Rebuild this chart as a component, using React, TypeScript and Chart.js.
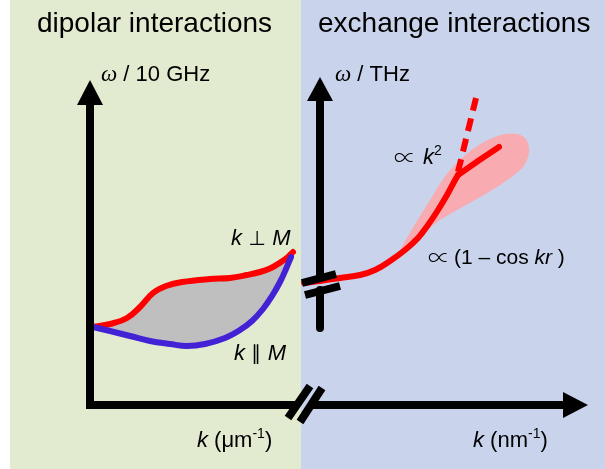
import React, { useEffect, useRef } from 'react';
import { Chart, registerables } from 'chart.js';

Chart.register(...registerables);

type Pt = [number, number];

// ---- diagram coordinate space (x to the right, y downwards) ----
const X_RANGE: Pt = [0, 605];
const Y_RANGE: Pt = [0, 469];

// panel backgrounds: x boundaries and colours
const panelEdges = [10, 301, 605];
const panelColors = ['#e2ebd0', '#c9d3ec'];

// dipolar regime: k ⊥ M (upper, red) and k ∥ M (lower, blue)
const perpCurve: Pt[] = [
  [93, 327], [110, 324], [127, 318], [140, 307], [153, 293], [166, 286], [182, 282],
  [210, 279], [230, 278], [247, 275], [260, 272], [271, 268], [281, 262], [288, 257], [293, 252],
];
const paraCurve: Pt[] = [
  [93, 327], [110, 331], [130, 336], [150, 341], [170, 344], [187, 346], [205, 344],
  [225, 338], [240, 330], [252, 321], [263, 309], [272, 296], [280, 282], [286, 269], [291, 257],
];

// exchange regime: (1 - cos kr) branch, k^2 branch and dashed continuation
const exchangeCurve: Pt[] = [
  [304, 283], [320, 281], [340, 278], [360, 275], [375, 270], [390, 261], [405, 250],
  [418, 238], [428, 225], [438, 210], [447, 195], [454, 182], [458, 175],
];
const k2Branch: Pt[] = [[458, 175], [478, 161], [499, 147]];
const k2Dashed: Pt[] = [[476, 98], [457, 176]];

// pink uncertainty blob around the k^2 branch
const pinkBlob: Pt[] = [
  [398, 255], [404, 243], [417, 221], [432, 197], [446, 175], [462, 158], [476, 147],
  [490, 139], [505, 134], [517, 134], [525, 138], [529, 147], [528, 157], [523, 167],
  [514, 175], [500, 185], [484, 195], [466, 205], [450, 214], [436, 223], [424, 233],
  [411, 245], [398, 255],
];

// axes
const leftAxis: Pt[] = [[90, 104], [90, 405], [298, 405]];
const bottomAxisRight: Pt[] = [[310, 405], [566, 405]];
const rightAxisTop: Pt[] = [[320, 100], [320, 279]];
const rightAxisBottom: Pt[] = [[320, 290], [320, 328]];
const arrowLeft: Pt[] = [[77, 105], [90, 80], [103, 105], [77, 105]];
const arrowRight: Pt[] = [[307, 101], [320, 77], [333, 101], [307, 101]];
const arrowBottom: Pt[] = [[563, 392], [588, 405], [563, 418], [563, 392]];
const breakBottomA: Pt[] = [[288, 418], [310, 386]];
const breakBottomB: Pt[] = [[300, 422], [322, 388]];
const breakRightA: Pt[] = [[302, 283], [336, 274]];
const breakRightB: Pt[] = [[305, 295], [340, 286]];

const SANS = '"Liberation Sans", Arial, "DejaVu Sans", sans-serif';
const SYM = '"DejaVu Sans", "Liberation Sans", sans-serif';
const PROP = '"Noto Sans CJK JP", "DejaVu Sans", sans-serif';
const SERIF = '"Liberation Serif", "Times New Roman", serif';

type Run = { t: string; f: string; dy?: number; gap?: number };
type Label = { x: number; y: number; runs: Run[] };

const labels: Label[] = [
  { x: 37, y: 32, runs: [{ t: 'dipolar interactions', f: `28px ${SANS}` }] },
  { x: 318, y: 32, runs: [{ t: 'exchange interactions', f: `28px ${SANS}` }] },
  { x: 101, y: 81, runs: [{ t: 'ω', f: `italic 23px ${SERIF}` }, { t: ' / 10 GHz', f: `22px ${SANS}` }] },
  { x: 335, y: 81, runs: [{ t: 'ω', f: `italic 23px ${SERIF}` }, { t: ' / THz', f: `22px ${SANS}` }] },
  {
    x: 231, y: 245, runs: [
      { t: 'k', f: `italic 22px ${SANS}` }, { t: ' ⊥ ', f: `20px ${SYM}` }, { t: 'M', f: `italic 22px ${SANS}` },
    ],
  },
  {
    x: 234, y: 360, runs: [
      { t: 'k', f: `italic 22px ${SANS}` }, { t: ' ∥ ', f: `20px ${SYM}` }, { t: 'M', f: `italic 22px ${SANS}` },
    ],
  },
  {
    x: 394, y: 164, runs: [
      { t: '∝', f: `300 22px ${PROP}`, dy: 1, gap: 7 }, { t: 'k', f: `italic 22px ${SANS}` }, { t: '2', f: `14px ${SANS}`, dy: -9 },
    ],
  },
  {
    x: 428, y: 264, runs: [
      { t: '∝', f: `300 22px ${PROP}`, dy: 1, gap: 4 }, { t: '(1 – cos ', f: `21px ${SANS}` },
      { t: 'kr', f: `italic 21px ${SANS}` }, { t: ' )', f: `21px ${SANS}` },
    ],
  },
  {
    x: 197, y: 447, runs: [
      { t: 'k', f: `italic 22px ${SANS}` }, { t: ' (μm', f: `22px ${SANS}` },
      { t: '-1', f: `14px ${SANS}`, dy: -9 }, { t: ')', f: `22px ${SANS}` },
    ],
  },
  {
    x: 473, y: 447, runs: [
      { t: 'k', f: `italic 22px ${SANS}` }, { t: ' (nm', f: `22px ${SANS}` },
      { t: '-1', f: `14px ${SANS}`, dy: -9 }, { t: ')', f: `22px ${SANS}` },
    ],
  },
];

const toXY = (pts: Pt[]) => pts.map(([x, y]) => ({ x, y }));

function stroke(pts: Pt[], color: string, width: number, extra: Record<string, unknown> = {}) {
  return {
    data: toXY(pts),
    showLine: true,
    borderColor: color,
    borderWidth: width,
    pointRadius: 0,
    pointHoverRadius: 0,
    fill: false,
    tension: 0,
    borderCapStyle: 'butt',
    borderJoinStyle: 'miter',
    ...extra,
  };
}

function shape(pts: Pt[], color: string, tension: number) {
  return {
    data: toXY(pts),
    showLine: true,
    borderColor: 'rgba(0,0,0,0)',
    borderWidth: 1,
    backgroundColor: color,
    pointRadius: 0,
    pointHoverRadius: 0,
    fill: 'shape',
    tension,
  };
}

const panelPlugin = {
  id: 'panels',
  beforeDraw(chart: any) {
    const { ctx, scales } = chart;
    const xs = scales.x, ys = scales.y;
    const top = ys.getPixelForValue(Y_RANGE[0]);
    const bottom = ys.getPixelForValue(Y_RANGE[1]);
    ctx.save();
    ctx.fillStyle = '#ffffff';
    ctx.fillRect(0, 0, chart.width, chart.height);
    for (let i = 0; i < panelColors.length; i++) {
      const x0 = xs.getPixelForValue(panelEdges[i]);
      const x1 = xs.getPixelForValue(panelEdges[i + 1]);
      ctx.fillStyle = panelColors[i];
      ctx.fillRect(x0, top, x1 - x0, bottom - top);
    }
    ctx.restore();
  },
};

const textPlugin = {
  id: 'texts',
  afterDatasetsDraw(chart: any) {
    const { ctx, scales } = chart;
    ctx.save();
    ctx.fillStyle = '#000000';
    ctx.textBaseline = 'alphabetic';
    ctx.textAlign = 'left';
    for (const lab of labels) {
      let cx = scales.x.getPixelForValue(lab.x);
      const by = scales.y.getPixelForValue(lab.y);
      for (const r of lab.runs) {
        ctx.font = r.f;
        ctx.fillText(r.t, cx, by + (r.dy || 0));
        cx += ctx.measureText(r.t).width + (r.gap || 0);
      }
    }
    ctx.restore();
  },
};

export default function App() {
  const ref = useRef<HTMLCanvasElement | null>(null);

  useEffect(() => {
    if (!ref.current) return;
    const RED = '#ff0000';
    const BLUE = '#4322d6';
    const BLACK = '#000000';
    const layers: any[] = [
      shape(pinkBlob, '#f8acb1', 0.35),
      shape([...perpCurve, ...[...paraCurve].reverse(), perpCurve[0]], '#bfbfbf', 0.3),
      stroke(perpCurve, RED, 6, { tension: 0.4, borderCapStyle: 'round' }),
      stroke(paraCurve, BLUE, 6, { tension: 0.4, borderCapStyle: 'round' }),
      stroke(exchangeCurve, RED, 6, { tension: 0.4, borderCapStyle: 'round' }),
      stroke(k2Branch, RED, 6, { borderCapStyle: 'round' }),
      stroke(k2Dashed, RED, 6, { borderDash: [13, 8] }),
      stroke(leftAxis, BLACK, 8),
      stroke(bottomAxisRight, BLACK, 8),
      stroke(rightAxisTop, BLACK, 8),
      stroke(rightAxisBottom, BLACK, 8, { borderCapStyle: 'round' }),
      shape(arrowLeft, BLACK, 0),
      shape(arrowRight, BLACK, 0),
      shape(arrowBottom, BLACK, 0),
      stroke(breakBottomA, BLACK, 8),
      stroke(breakBottomB, BLACK, 8),
      stroke(breakRightA, BLACK, 8),
      stroke(breakRightB, BLACK, 8),
    ];
    const n = layers.length;
    layers.forEach((d, i) => { d.order = n - i; });

    const chart = new Chart(ref.current, {
      type: 'scatter',
      data: { datasets: layers },
      options: {
        responsive: false,
        animation: false,
        events: [],
        devicePixelRatio: 1,
        layout: { padding: 0 },
        plugins: { legend: { display: false }, tooltip: { enabled: false } },
        scales: {
          x: { type: 'linear', min: X_RANGE[0], max: X_RANGE[1], display: false },
          y: { type: 'linear', min: Y_RANGE[0], max: Y_RANGE[1], reverse: true, display: false },
        },
      },
      plugins: [panelPlugin, textPlugin],
    } as any);
    return () => chart.destroy();
  }, []);

  return (
    <div style={{ position: 'fixed', left: 0, top: 0, width: 605, height: 469, background: '#fff' }}>
      <canvas ref={ref} width={605} height={469} style={{ display: 'block' }} />
    </div>
  );
}
